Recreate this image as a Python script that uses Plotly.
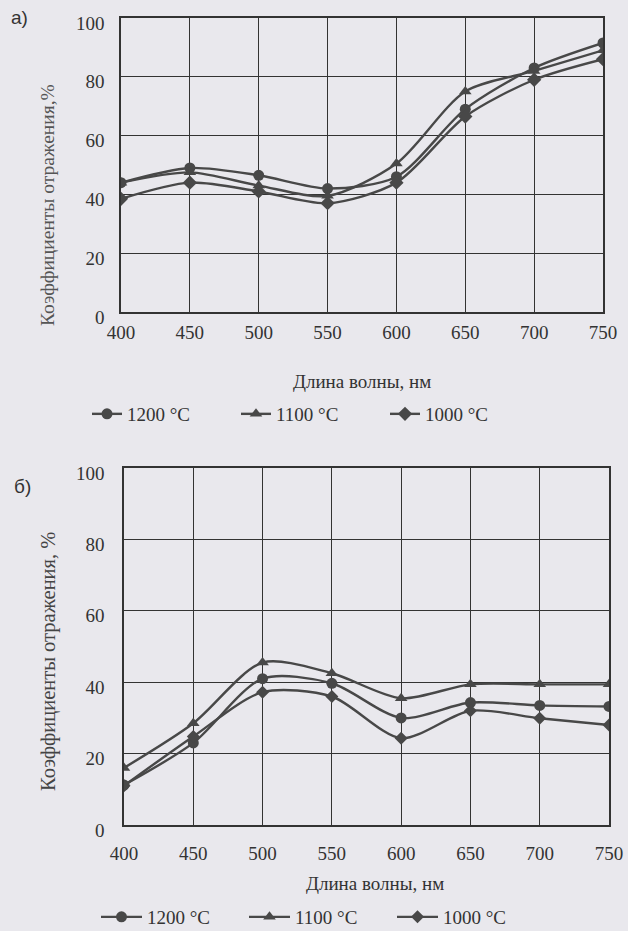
import plotly.graph_objects as go

wavelengths = [400, 450, 500, 550, 600, 650, 700, 750]
series_names = ["1200 °C", "1100 °C", "1000 °C"]
symbols = ["circle", "triangle-up", "diamond"]

# Chart а)
a_1200 = [44, 49, 46.5, 42, 46, 69, 83, 91.5]
a_1100 = [44, 47.5, 43, 39.5, 50.5, 75, 82, 89]
a_1000 = [38.5, 44, 41, 37, 44, 66.5, 79, 86]

# Chart б)
b_1200 = [11.2, 23, 41, 39.7, 30, 34.3, 33.5, 33.2]
b_1100 = [16, 28.5, 45.5, 42.5, 35.5, 39.4, 39.4, 39.4]
b_1000 = [11, 24.8, 37.2, 36, 24.3, 32, 29.9, 28]

y_ticks = [0, 20, 40, 60, 80, 100]

W, H = 628, 931
BG = "#e9e8ed"
INK = "#333333"
LINE = "#484848"
SERIF = "Liberation Serif, Times New Roman, serif"

fig = go.Figure()

def px_x(x):
    return x / W

def px_y(y):
    return 1 - y / H

for vals, name, sym in zip([a_1200, a_1100, a_1000], series_names, symbols):
    fig.add_trace(go.Scatter(
        x=wavelengths, y=vals, name=name, mode="lines+markers",
        line=dict(color=LINE, width=2.4, shape="spline", smoothing=0.8),
        marker=dict(symbol=sym, size=11, color=LINE),
        xaxis="x", yaxis="y", legend="legend"))

for vals, name, sym in zip([b_1200, b_1100, b_1000], series_names, symbols):
    fig.add_trace(go.Scatter(
        x=wavelengths, y=vals, name=name, mode="lines+markers",
        line=dict(color=LINE, width=2.4, shape="spline", smoothing=0.8),
        marker=dict(symbol=sym, size=11 if sym != "diamond" else 10, color=LINE),
        xaxis="x2", yaxis="y2", legend="legend2"))

axis_common = dict(
    showgrid=True, gridcolor=INK, gridwidth=1.4,
    showline=True, linecolor=INK, linewidth=1.6, mirror=True,
    zeroline=False, automargin=False,
    tickfont=dict(family=SERIF, size=19, color=INK),
    ticks="outside", tickcolor="rgba(0,0,0,0)",
)

fig.update_layout(
    width=W, height=H,
    margin=dict(l=0, r=0, t=0, b=0, autoexpand=False),
    paper_bgcolor=BG, plot_bgcolor=BG,
    showlegend=True,
    xaxis=dict(domain=[px_x(121), px_x(603)], range=[400, 750],
               tickvals=wavelengths, ticklen=2, anchor="y", **axis_common),
    yaxis=dict(domain=[px_y(312), px_y(18)], range=[0, 100],
               tickvals=y_ticks, ticklen=11, ticklabelshift=5, anchor="x", **axis_common),
    xaxis2=dict(domain=[px_x(124), px_x(609)], range=[400, 750],
                tickvals=wavelengths, ticklen=10, anchor="y2", **axis_common),
    yaxis2=dict(domain=[px_y(825), px_y(468)], range=[0, 100],
                tickvals=y_ticks, ticklen=14, ticklabelshift=5, anchor="x2", **axis_common),
    legend=dict(orientation="h", x=px_x(87), y=px_y(414), xanchor="left", yanchor="middle",
                bgcolor="rgba(0,0,0,0)", font=dict(family=SERIF, size=19, color=INK),
                entrywidth=104, entrywidthmode="pixels", itemwidth=30,
                tracegroupgap=0),
    legend2=dict(orientation="h", x=px_x(96), y=px_y(917), xanchor="left", yanchor="middle",
                 bgcolor="rgba(0,0,0,0)", font=dict(family=SERIF, size=19, color=INK),
                 entrywidth=92, entrywidthmode="pixels", itemwidth=41,
                 tracegroupgap=0),
)

annotations = [
    dict(text="а)", x=px_x(9), y=px_y(18), xanchor="left", yanchor="middle",
         font=dict(family="Liberation Sans, Arial, sans-serif", size=19, color=INK)),
    dict(text="б)", x=px_x(12), y=px_y(486), xanchor="left", yanchor="middle",
         font=dict(family="Liberation Sans, Arial, sans-serif", size=19, color=INK)),
    dict(text="Коэффициенты отражения,%", x=px_x(48), y=px_y(205), textangle=-90,
         xanchor="center", yanchor="middle",
         font=dict(family=SERIF, size=19.5, color="#555")),
    dict(text="Коэффициенты отражения, %", x=px_x(48), y=px_y(662), textangle=-90,
         xanchor="center", yanchor="middle",
         font=dict(family=SERIF, size=20.5, color="#444")),
    dict(text="Длина волны, нм", x=px_x(362), y=px_y(381), xanchor="center", yanchor="middle",
         font=dict(family=SERIF, size=19, color=INK)),
    dict(text="Длина волны, нм", x=px_x(375), y=px_y(883), xanchor="center", yanchor="middle",
         font=dict(family=SERIF, size=19, color=INK)),
]
for a in annotations:
    a.update(xref="paper", yref="paper", showarrow=False)
fig.update_layout(annotations=annotations)

fig.write_html(
    "out.html",
    config={"displayModeBar": False},
    post_script="document.body.style.margin='0';document.body.style.overflow='hidden';",
)
